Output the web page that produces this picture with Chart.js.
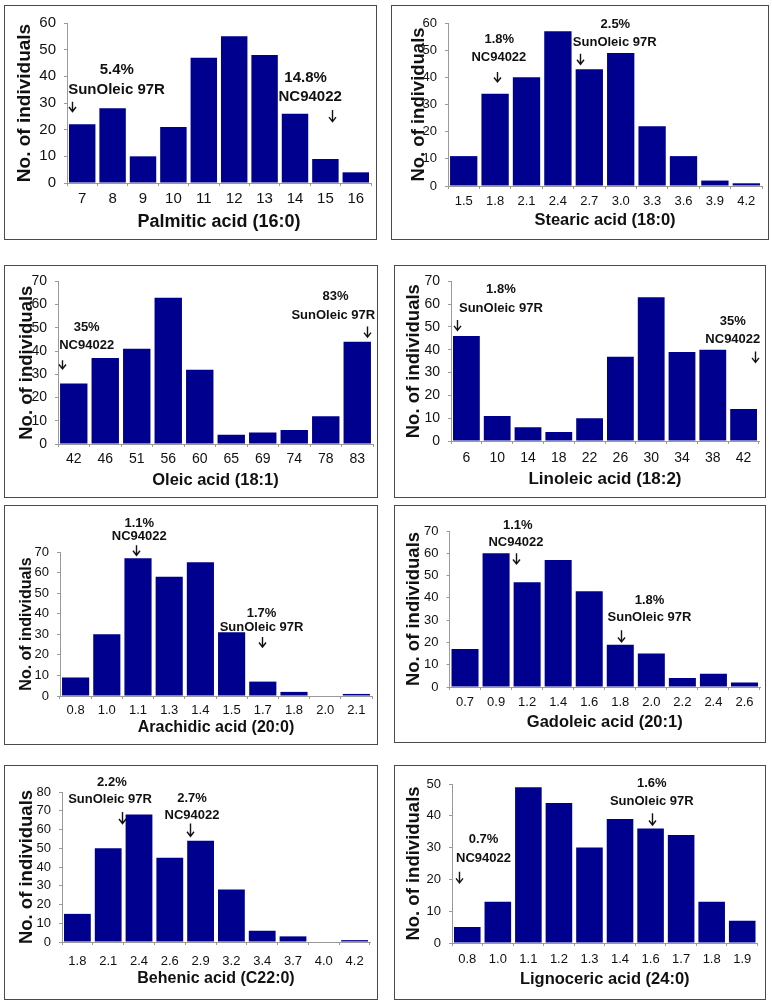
<!DOCTYPE html>
<html><head><meta charset="utf-8">
<script src="https://cdn.jsdelivr.net/npm/chart.js@4.4.1/dist/chart.umd.min.js"></script>
<style>
html,body{margin:0;padding:0;background:#fff;}
#wrap{position:relative;width:772px;height:1005px;overflow:hidden;background:#fff;}
.box{position:absolute;box-sizing:border-box;border:1px solid #4a4a4a;pointer-events:none;z-index:2;}
canvas{position:absolute;z-index:1;}
</style></head><body><div id="wrap"></div>
<script>
// ---------- DATA ----------
const palmiticLabels = ['7','8','9','10','11','12','13','14','15','16'];
const palmiticCounts = [22,28,10,21,47,55,48,26,9,4];
const stearicLabels = ['1.5','1.8','2.1','2.4','2.7','3.0','3.3','3.6','3.9','4.2'];
const stearicCounts = [11,34,40,57,43,49,22,11,2,1];
const oleicLabels = ['42','46','51','56','60','65','69','74','78','83'];
const oleicCounts = [26,37,41,63,32,4,5,6,12,44];
const linoleicLabels = ['6','10','14','18','22','26','30','34','38','42'];
const linoleicCounts = [46,11,6,4,10,37,63,39,40,14];
const arachidicLabels = ['0.8','1.0','1.1','1.3','1.4','1.5','1.7','1.8','2.0','2.1'];
const arachidicCounts = [9,30,67,58,65,31,7,2,0,1];
const gadoleicLabels = ['0.7','0.9','1.2','1.4','1.6','1.8','2.0','2.2','2.4','2.6'];
const gadoleicCounts = [17,60,47,57,43,19,15,4,6,2];
const behenicLabels = ['1.8','2.1','2.4','2.6','2.9','3.2','3.4','3.7','4.0','4.2'];
const behenicCounts = [15,50,68,45,54,28,6,3,0,1];
const lignocericLabels = ['0.8','1.0','1.1','1.2','1.3','1.4','1.6','1.7','1.8','1.9'];
const lignocericCounts = [5,13,49,44,30,39,36,34,13,7];
const yAxisTitle = 'No. of individuals';

// ---------- ANNOTATIONS (text + arrow, in data coordinates) ----------
const palmiticNotes = [
  {lines:['5.4%','SunOleic 97R'], at:[1.14,1.13], textY:[42.4,35.1], arrowAt:-0.35, arrowY:[30.5,26.8]},
  {lines:['14.8%','NC94022'], at:[7.35,7.5], textY:[39.6,32.4], arrowAt:8.22, arrowY:[27.4,23]}];
const stearicNotes = [
  {lines:['1.8%','NC94022'], at:[1.135,1.12], textY:[53.9,47.3], arrowAt:1.05, arrowY:[42,38.3]},
  {lines:['2.5%','SunOleic 97R'], at:[4.83,4.81], textY:[59.5,52.8], arrowAt:3.69, arrowY:[48.7,44.8]}];
const oleicNotes = [
  {lines:['35%','NC94022'], at:[0.41,0.41], textY:[50.2,42.5], arrowAt:-0.38, arrowY:[36.1,32.3]},
  {lines:['83%','SunOleic 97R'], at:[8.31,8.24], textY:[63.6,55.4], arrowAt:9.31, arrowY:[50.6,46]}];
const linoleicNotes = [
  {lines:['1.8%','SunOleic 97R'], at:[1.12,1.12], textY:[66.4,58.1], arrowAt:-0.31, arrowY:[53.1,48.5]},
  {lines:['35%','NC94022'], at:[8.65,8.65], textY:[52.4,44.6], arrowAt:9.38, arrowY:[39.2,34.5]}];
const arachidicNotes = [
  {lines:['1.1%','NC94022'], at:[2.04,2.04], textY:[84.1,77.6], arrowAt:1.93, arrowY:[73.3,68.4]},
  {lines:['1.7%','SunOleic 97R'], at:[5.96,5.96], textY:[40.1,33.1], arrowAt:5.98, arrowY:[28.7,23.8]}];
const gadoleicNotes = [
  {lines:['1.1%','NC94022'], at:[1.70,1.64], textY:[72.7,64.7], arrowAt:1.64, arrowY:[60,55.2]},
  {lines:['1.8%','SunOleic 97R'], at:[5.94,5.94], textY:[39,31.2], arrowAt:5.03, arrowY:[25.5,20.2]}];
const behenicNotes = [
  {lines:['2.2%','SunOleic 97R'], at:[1.12,1.06], textY:[85,76.1], arrowAt:1.44, arrowY:[69.4,63.2]},
  {lines:['2.7%','NC94022'], at:[3.72,3.72], textY:[76.8,67.6], arrowAt:3.64, arrowY:[63.2,56.4]}];
const lignocericNotes = [
  {lines:['0.7%','NC94022'], at:[0.53,0.53], textY:[32.6,26.6], arrowAt:-0.26, arrowY:[22.4,18.9]},
  {lines:['1.6%','SunOleic 97R'], at:[6.04,6.04], textY:[50.2,44.4], arrowAt:6.04, arrowY:[40.8,37.1]}];

// ---------- LAYOUT ----------
const FONT = '"Liberation Sans", Arial, Helvetica, sans-serif';
const BAR = '#00008f';
const panels = [
  {title:'Palmitic acid (16:0)', labels:palmiticLabels, counts:palmiticCounts, notes:palmiticNotes, yMax:60,
   box:[4,5,373,235], plot:[67,23,371,183], yTitleX:25, xTitleY:222, xTickY:199, f:{yt:19,xt:18,tk:15,an:15}},
  {title:'Stearic acid (18:0)', labels:stearicLabels, counts:stearicCounts, notes:stearicNotes, yMax:60,
   box:[391,5,378,235], plot:[448,23,762,186], yTitleX:419, xTitleY:220, xTickY:201.5, f:{yt:18.5,xt:16.5,tk:13,an:13}},
  {title:'Oleic acid (18:1)', labels:oleicLabels, counts:oleicCounts, notes:oleicNotes, yMax:70,
   box:[4,265,374,233], plot:[58,278,373,444], yTitleX:27, xTitleY:480, xTickY:459, f:{yt:18.5,xt:16.5,tk:14,an:13}},
  {title:'Linoleic acid (18:2)', labels:linoleicLabels, counts:linoleicCounts, notes:linoleicNotes, yMax:70,
   box:[394,265,372,233], plot:[451,278,759,441], yTitleX:414, xTitleY:479, xTickY:458, f:{yt:18.5,xt:17,tk:14,an:13}},
  {title:'Arachidic acid (20:0)', labels:arachidicLabels, counts:arachidicCounts, notes:arachidicNotes, yMax:70,
   box:[4,505,374,240], plot:[60,552,372,696], yTitleX:27, xTitleY:728, xTickY:710, f:{yt:16,xt:16,tk:13,an:13}},
  {title:'Gadoleic acid (20:1)', labels:gadoleicLabels, counts:gadoleicCounts, notes:gadoleicNotes, yMax:70,
   box:[394,505,372,238], plot:[449.5,531,760,687], yTitleX:414, xTitleY:722, xTickY:702, f:{yt:18.5,xt:16.5,tk:13,an:13}},
  {title:'Behenic acid (C22:0)', labels:behenicLabels, counts:behenicCounts, notes:behenicNotes, yMax:80,
   box:[4,765,374,235], plot:[62,792,370,942], yTitleX:27, xTitleY:979, xTickY:961, f:{yt:18.5,xt:16,tk:13,an:13}},
  {title:'Lignoceric acid (24:0)', labels:lignocericLabels, counts:lignocericCounts, notes:lignocericNotes, yMax:50,
   box:[394,765,372,235], plot:[452,784,757.5,943], yTitleX:414, xTitleY:979, xTickY:959, f:{yt:18.5,xt:16.5,tk:13,an:13}}
];

const notesPlugin = {
  id:'notes',
  afterDatasetsDraw(chart, args, opts) {
    const {ctx} = chart; const x = chart.scales.x, y = chart.scales.y;
    ctx.save();
    ctx.fillStyle = '#111'; ctx.strokeStyle = '#111';
    ctx.font = 'bold ' + opts.size + 'px ' + FONT;
    ctx.textAlign = 'center'; ctx.textBaseline = 'middle';
    (opts.notes || []).forEach(n => {
      n.lines.forEach((t, i) => ctx.fillText(t, x.getPixelForValue(n.at[i]), y.getPixelForValue(n.textY[i])));
      const ax = Math.round(x.getPixelForValue(n.arrowAt)) + 0.5;
      const y1 = y.getPixelForValue(n.arrowY[0]), y2 = y.getPixelForValue(n.arrowY[1]);
      ctx.lineWidth = 1.4;
      ctx.beginPath();
      ctx.moveTo(ax, y1); ctx.lineTo(ax, y2);
      ctx.moveTo(ax - 3.5, y2 - 4.5); ctx.lineTo(ax, y2); ctx.lineTo(ax + 3.5, y2 - 4.5);
      ctx.stroke();
    });
    ctx.restore();
  }
};

const wrap = document.getElementById('wrap');
panels.forEach(p => {
  const [bx, by, bw, bh] = p.box;
  const [L, T, R, B] = p.plot;
  const ytLH = p.f.yt * 1.2, xtLH = p.f.xt * 1.2, tkLH = p.f.tk * 1.2;
  const TL = 3;
  const axisLeft = p.yTitleX - ytLH / 2;
  const padL = axisLeft - bx, yW = L - axisLeft, padT = T - by, padR = bx + bw - R;
  const xBottom = p.xTitleY + xtLH / 2;
  const xH = xBottom - B, padB = by + bh - xBottom;
  const xTickPad = p.xTickY - B - TL - tkLH / 2;

  const cv = document.createElement('canvas');
  cv.width = bw; cv.height = bh;
  cv.style.left = bx + 'px'; cv.style.top = by + 'px';
  cv.style.width = bw + 'px'; cv.style.height = bh + 'px';
  wrap.appendChild(cv);
  const bd = document.createElement('div');
  bd.className = 'box';
  bd.style.left = bx + 'px'; bd.style.top = by + 'px';
  bd.style.width = bw + 'px'; bd.style.height = bh + 'px';
  wrap.appendChild(bd);

  new Chart(cv.getContext('2d'), {
    type:'bar',
    data:{labels:p.labels, datasets:[{data:p.counts, backgroundColor:BAR, borderWidth:0,
      barPercentage:0.87, categoryPercentage:1}]},
    options:{
      responsive:false, animation:false, devicePixelRatio:1,
      layout:{padding:{left:padL, top:padT, right:padR, bottom:padB}},
      plugins:{legend:{display:false}, tooltip:{enabled:false}, notes:{notes:p.notes, size:p.f.an}},
      scales:{
        x:{
          grid:{display:true, drawOnChartArea:false, drawTicks:true, tickLength:TL, color:'#9a9a9a', offset:true},
          border:{display:true, color:'#9a9a9a', width:1},
          ticks:{color:'#111', padding:xTickPad, maxRotation:0, autoSkip:false, font:{family:FONT, size:p.f.tk}},
          title:{display:true, text:p.title, color:'#111', padding:0, font:{family:FONT, size:p.f.xt, weight:'bold'}},
          afterFit:s => { s.height = xH; }
        },
        y:{
          min:0, max:p.yMax,
          grid:{display:true, drawOnChartArea:false, drawTicks:true, tickLength:TL, color:'#9a9a9a'},
          border:{display:true, color:'#9a9a9a', width:1},
          ticks:{color:'#111', stepSize:10, padding:8, font:{family:FONT, size:p.f.tk}},
          title:{display:true, text:yAxisTitle, color:'#111', padding:0, font:{family:FONT, size:p.f.yt, weight:'bold'}},
          afterFit:s => { s.width = yW; }
        }
      }
    },
    plugins:[notesPlugin]
  });
});
</script></body></html>
